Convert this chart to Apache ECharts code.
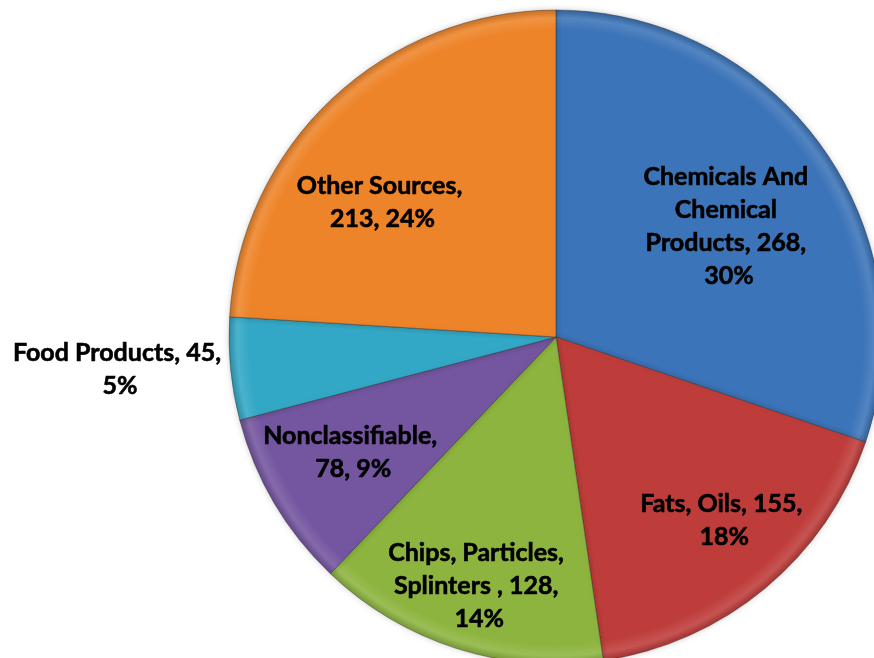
<!DOCTYPE html>
<html><head><meta charset="utf-8">
<script src="https://cdn.jsdelivr.net/npm/echarts@6/dist/echarts.min.js"></script>
<style>html,body{margin:0;padding:0;background:#fff}#c{width:874px;height:658px}</style>
</head><body><div id="c"></div>
<script>
// Data
const categories = ["Chemicals And Chemical Products", "Fats, Oils", "Chips, Particles, Splinters ", "Nonclassifiable", "Food Products", "Other Sources"];
const values = [268, 155, 128, 78, 45, 213];
// Styles
const colors = ["#3C74B9", "#BE3D3A", "#8DB43F", "#7456A0", "#33A8C6", "#EE8429"];
const labelWidths = [185, 185, 200, 200, 235, 195];
const labelRadiusFrac = [0.627, 0.761, 0.797, 0.713, 1.337, 0.672];
const labelAngleShift = [3.1, -2.8, -0.5, 1.0, 1.3, -8.9];
const CX = 556, CY = 337, R = 327;

const total = values.reduce((a, b) => a + b, 0);
const midAngles = [];
let acc = 0;
values.forEach(v => { midAngles.push((acc + v / 2) / total * 360); acc += v; });

function mix(c, target, t) {
  const a = echarts.color.parse(c);
  const r = a.slice(0, 3).map(v => Math.round(v + (target - v) * t));
  return 'rgb(' + r.join(',') + ')';
}

const chart = echarts.init(document.getElementById('c'));
chart.setOption({
  animation: false,
  series: [{
    type: 'pie',
    center: [CX, CY],
    radius: [0, R],
    startAngle: 90,
    clockwise: true,
    percentPrecision: 0,
    avoidLabelOverlap: false,
    data: categories.map((n, i) => ({
      name: n, value: values[i],
      itemStyle: {
        color: {
          type: 'radial', x: CX, y: CY, r: R, global: true,
          colorStops: [
            {offset: 0, color: colors[i]},
            {offset: 0.94, color: colors[i]},
            {offset: 0.975, color: mix(colors[i], 255, 0.12)},
            {offset: 1, color: mix(colors[i], 0, 0.15)}
          ]
        }
      },
      label: { width: labelWidths[i] }
    })),
    itemStyle: { borderColor: 'rgba(40,40,40,0.5)', borderWidth: 0.8, shadowBlur: 6, shadowColor: 'rgba(0,0,0,0.2)' },
    label: {
      show: true,
      position: 'inside',
      formatter: '{b}, {c}, {d}%',
      overflow: 'break',
      fontFamily: 'Lato, "Open Sans", sans-serif',
      fontWeight: 'bold',
      fontSize: 25,
      lineHeight: 33,
      color: '#000',
      textBorderColor: '#000',
      textBorderWidth: 0.6,
      align: 'center'
    },
    labelLine: { show: false },
    emphasis: { disabled: true }
  }]
});
chart.setOption({
  series: [{
    labelLayout: function (p) {
      const i = p.dataIndex;
      const a = (midAngles[i] + labelAngleShift[i]) * Math.PI / 180;
      const d = R * labelRadiusFrac[i];
      return { x: CX + d * Math.sin(a), y: CY - d * Math.cos(a), align: 'center', verticalAlign: 'middle' };
    }
  }]
});
</script></body></html>
